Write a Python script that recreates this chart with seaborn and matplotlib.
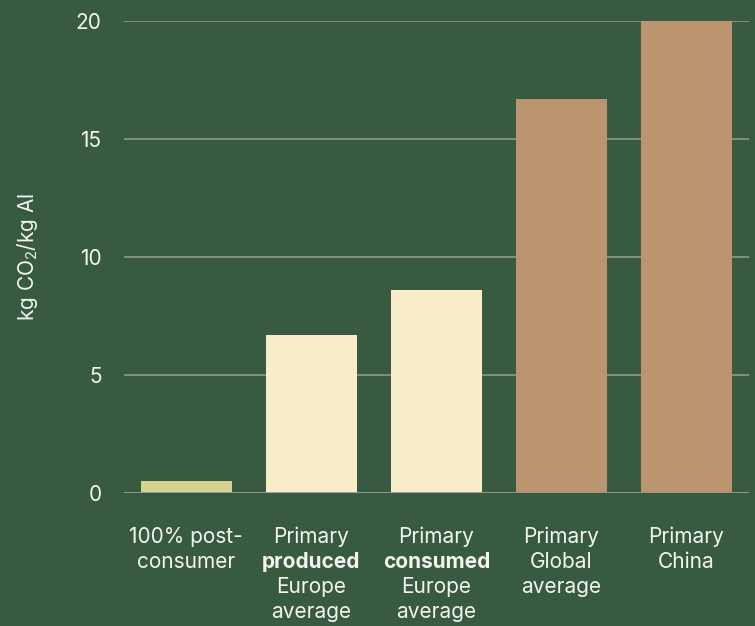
import matplotlib
matplotlib.use("Agg")
import matplotlib.pyplot as plt
import seaborn as sb
import pandas as pd

# chart data
categories = ["post_consumer", "produced_eu", "consumed_eu", "global", "china"]
emissions = [0.5, 6.7, 8.6, 16.7, 20.0]
bar_colors = ["#d3d491", "#f8ecc9", "#f8ecc9", "#bb9470", "#bb9470"]
tick_lines = [
    ["100% post-", "consumer"],
    ["Primary", "produced", "Europe", "average"],
    ["Primary", "consumed", "Europe", "average"],
    ["Primary", "Global", "average"],
    ["Primary", "China"],
]
bold_lines = [None, 1, 1, None, None]
y_ticks = [0, 5, 10, 15, 20]

bg = "#375a41"
txt = "#f4f4f0"
fs = 15

sb.set_style("white")
plt.rcParams["font.family"] = ["Inter", "DejaVu Sans"]
plt.rcParams["mathtext.fontset"] = "custom"
plt.rcParams["mathtext.rm"] = "Inter"

df = pd.DataFrame({"cat": categories, "val": emissions})

fig = plt.figure(figsize=(7.55, 6.26), dpi=100, facecolor=bg)
ax = fig.add_axes([0.164, 0.2125, 0.828, 0.754])
ax.set_facecolor(bg)

sb.barplot(data=df, x="cat", y="val", hue="cat", palette=bar_colors,
           width=0.726, legend=False, ax=ax, saturation=1, zorder=3,
           linewidth=0)

ax.set_ylim(0, 20)
ax.set_xlim(-0.5, 4.5)
ax.set_yticks(y_ticks)
ax.yaxis.grid(True, color="#8d9a8c", linewidth=1.2, zorder=0)
ax.set_axisbelow(True)
for s in ax.spines.values():
    s.set_visible(False)
ax.axhline(0, color="#8d9a8c", linewidth=2, zorder=4)

ax.tick_params(axis="y", length=0, pad=16, labelsize=fs, labelcolor=txt)
ax.tick_params(axis="x", length=0)
ax.set_xticks(range(len(categories)))
ax.set_xticklabels([""] * len(categories))
ax.set_xlabel("")
ax.set_ylabel("kg CO$_2$/kg Al", color=txt, fontsize=fs, labelpad=26)

# multi-line category labels with one bold word
for i, lines in enumerate(tick_lines):
    for j, line in enumerate(lines):
        ax.annotate(line, xy=(i, 0), xycoords=("data", "axes fraction"),
                    xytext=(0, -44 - 25 * j), textcoords="offset pixels",
                    ha="center", va="center", color=txt, fontsize=fs,
                    fontweight="bold" if bold_lines[i] == j else "normal")

fig.savefig("out.png", dpi=100, facecolor=bg)
